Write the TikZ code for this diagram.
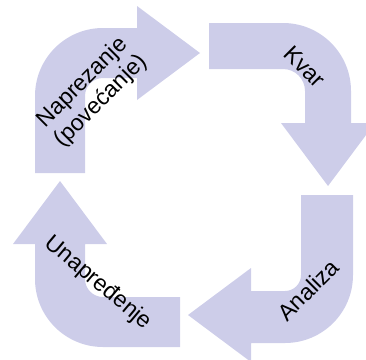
\documentclass[tikz,border=0pt]{standalone}
\usepackage{fontspec}
\setmainfont{Liberation Sans}
\definecolor{arrowfill}{RGB}{205,205,233}
\begin{document}
\begin{tikzpicture}[x=1pt,y=-1pt,
  bent/.style={fill=arrowfill,draw=none},
  lbl/.style={font=\fontsize{23}{26}\selectfont,align=center,inner sep=0pt,text=black}]
\useasboundingbox (0,0) rectangle (366,359);
\begin{scope}
\clip (0,0) rectangle (366,359);
% top-left arrow
\fill[bent] (35,173) -- (35,96) arc[start angle=180,end angle=270,radius=68]
  -- (137,28) -- (137,6) -- (200,53) -- (137,100) -- (137,78) -- (103,78)
  arc[start angle=270,end angle=180,radius=18] -- (85,173) -- cycle;
% top-right arrow
\fill[bent] (209,23) -- (283,23) arc[start angle=270,end angle=360,radius=68]
  -- (351,123) -- (375,123) -- (328,186) -- (281,123) -- (305,123) -- (305,91)
  arc[start angle=0,end angle=-90,radius=22] -- (209,69) -- cycle;
% bottom-right arrow
\fill[bent] (353,195) -- (353,275) arc[start angle=0,end angle=90,radius=68]
  -- (251,343) -- (251,362) -- (188,315) -- (251,268) -- (251,291) -- (285,291)
  arc[start angle=90,end angle=0,radius=16] -- (301,195) -- cycle;
% bottom-left arrow
\fill[bent] (180,347) -- (103,347) arc[start angle=90,end angle=180,radius=68]
  -- (35,244) -- (13,244) -- (60,181) -- (107,244) -- (85,244) -- (85,279)
  arc[start angle=180,end angle=90,radius=18] -- (180,297) -- cycle;
\end{scope}
\node[lbl,rotate=45] (n1) at (92,92) {Naprezanje\\(povećanje)};
\node[lbl,rotate=-45] (n2) at (305,67) {Kvar};
\node[lbl,rotate=45] (n3) at (308,290) {Analiza};
\node[lbl,rotate=-40] (n4) at (98,283) {Unapređenje};
\end{tikzpicture}
\end{document}
